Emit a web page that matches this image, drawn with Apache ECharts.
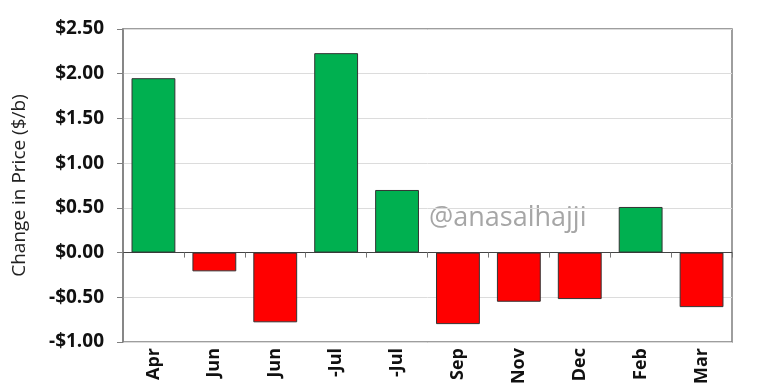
<!DOCTYPE html>
<html><head><meta charset="utf-8">
<script src="https://cdn.jsdelivr.net/npm/echarts@6/dist/echarts.min.js"></script>
<style>html,body{margin:0;padding:0;background:#fff}#c{width:765px;height:383px}</style>
</head><body><div id="c"></div>
<script>
const categories = ["Apr", "Jun", "Jun", "-Jul", "-Jul", "Sep", "Nov", "Dec", "Feb", "Mar"];
const values = [1.95, -0.21, -0.78, 2.23, 0.70, -0.80, -0.55, -0.52, 0.51, -0.61];
const yTicks = [-1.0, -0.5, 0, 0.5, 1.0, 1.5, 2.0, 2.5];
const yTitle = "Change in Price ($/b)";
const watermark = "@anasalhajji";

const chart = echarts.init(document.getElementById('c'), null, {renderer: 'canvas'});
const fmt = v => (v < 0 ? '-$' : '$') + Math.abs(v).toFixed(2);
chart.setOption({
  animation: false,
  grid: {left: 123, right: 33, top: 29, bottom: 41, show: true, borderColor: '#7f7f7f', borderWidth: 1.5, backgroundColor: '#fff', containLabel: false, outerBoundsMode: 'none'},
  xAxis: {
    type: 'category', data: categories,
    axisLine: {onZero: true, lineStyle: {color: '#444', width: 1}},
    axisTick: {show: true, alignWithLabel: false, length: 5, lineStyle: {color: '#777'}},
    axisLabel: {rotate: 90, color: '#111', fontWeight: 'bold', fontSize: 18, fontFamily: 'Open Sans', margin: 6}
  },
  yAxis: {
    type: 'value', min: yTicks[0], max: yTicks[yTicks.length - 1], interval: 0.5,
    name: yTitle, nameLocation: 'middle', nameGap: 94,
    nameTextStyle: {fontSize: 19, color: '#222', fontFamily: 'Open Sans'},
    axisLine: {show: true, lineStyle: {color: '#7f7f7f', width: 1.5}},
    axisTick: {show: true, length: 6, lineStyle: {color: '#7f7f7f'}},
    splitLine: {lineStyle: {color: '#dcdcdc'}},
    axisLabel: {formatter: fmt, color: '#111', fontWeight: 'bold', fontSize: 19, fontFamily: 'Open Sans', margin: 19}
  },
  graphic: [{type: 'text', left: 429, top: 205, style: {text: watermark, fontSize: 27, fill: '#a6a6a6', fontFamily: 'Open Sans'}}],
  series: [{
    type: 'bar', barWidth: '72%',
    data: values.map(v => ({value: v, itemStyle: {color: v >= 0 ? '#00B050' : '#FF0000'}})),
    itemStyle: {borderColor: '#333', borderWidth: 1}
  }]
});
</script></body></html>
